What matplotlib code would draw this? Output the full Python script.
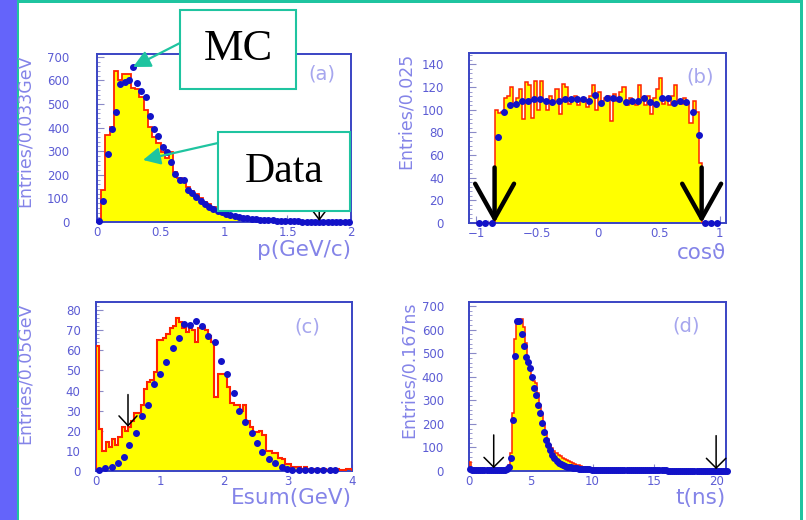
import numpy as np
import matplotlib
matplotlib.use("Agg")
import matplotlib.pyplot as plt
from matplotlib.patches import Rectangle, FancyArrowPatch
from matplotlib.ticker import AutoMinorLocator

# ---------------- data ----------------
# (a) momentum, 60 bins of 0.0333 GeV from 0 to 2
mc_a = [10, 136, 368, 404, 640, 600, 627, 627, 567, 565, 531, 475, 404, 361, 334,
        298, 270, 298, 210, 185, 170, 150, 130, 118, 100, 85, 75, 62, 52, 45,
        38, 33, 28, 24, 21, 18, 15, 13, 11, 9, 8, 7, 6, 5, 4,
        4, 3, 3, 2, 2, 2, 1, 1, 1, 1, 1, 0, 0, 0, 0]
data_a = [5, 89, 288, 395, 467, 583, 594, 601, 658, 590, 556, 531, 449, 393, 366,
          319, 298, 256, 202, 178, 178, 136, 124, 107, 90, 78, 64, 56, 48, 41,
          35, 30, 26, 22, 19, 16, 14, 12, 10, 9, 8, 7, 6, 5, 4,
          4, 3, 3, 2, 2, 2, 1, 1, 1, 1, 1, 1, 0, 0, 0]

# (b) cos(theta), MC in 80 bins of 0.025, data in 40 bins of 0.05
mc_b = [0, 0, 0, 0, 0, 0,
        100, 97, 98, 110, 112, 120, 105, 110, 118, 92, 124, 122, 93, 125, 100, 125, 108,
        100, 112, 106, 118, 96, 123, 120, 105, 110, 112, 104, 108, 110, 102, 112, 122,
        100, 116, 108, 110, 112, 90, 114, 108, 116, 120, 104, 110, 108, 104, 122, 110,
        104, 112, 96, 110, 118, 128, 105, 110, 104, 112, 122, 108, 105, 110, 106, 88,
        108, 98, 53,
        0, 0, 0, 0, 0, 0]
data_b = [0, 0, 0, 76, 98, 104, 105, 108, 108, 109, 109, 108, 107, 108, 109, 109,
          109, 109, 108, 113, 106, 110, 110, 109, 107, 108, 108, 110, 107, 105, 110,
          110, 106, 108, 107, 98, 78, 0, 0, 0]

# (c) Esum, MC in 80 bins of 0.05 GeV
mc_c = [62, 21, 10, 14.6, 12, 16, 13, 17, 22, 20, 22, 25, 29, 29, 33, 41, 44, 45, 49, 65,
        65, 66, 68, 71, 72, 76, 74, 71, 69, 71, 70, 64, 71, 71, 70, 67, 64, 37, 48, 48,
        48, 42, 34, 33, 33, 30, 33, 25, 22, 19.6, 19.6, 20, 18, 10, 10, 9, 9, 6.5, 6, 3.5,
        3.5, 2, 2, 2, 1, 2, 1, 1, 1, 1, 1, 1, 0.5, 1, 0.5, 1, 0.5, 0.5, 1, 1]
data_c_x = [0.04, 0.14, 0.25, 0.35, 0.43, 0.52, 0.62, 0.72, 0.82, 0.91,
            1.0, 1.1, 1.2, 1.29, 1.38, 1.47, 1.56, 1.65, 1.75, 1.86,
            1.96, 2.04, 2.15, 2.24, 2.33, 2.43, 2.51, 2.6, 2.71, 2.8,
            2.9, 2.98, 3.07, 3.17, 3.27, 3.36, 3.46, 3.55, 3.65, 3.74]
data_c = [0.5, 1.3, 2.2, 3.8, 7, 13, 19, 27.5, 33, 43,
          48, 54, 61, 66, 73, 72.6, 74.6, 72, 67, 64,
          54.7, 48, 38.6, 30, 24.5, 18.7, 13.8, 9.6, 6, 3.8,
          2, 1, 0.5, 0.5, 0.5, 0.5, 0.5, 0.5, 0.5, 0.5]

# (d) time, 126 bins of 0.167 ns from 0 to 21
mc_d = [40, 10, 5, 5, 5, 5, 5, 5, 5, 5, 5, 5, 8, 8, 8, 8, 8, 8, 12, 25,
        75, 245, 560, 630, 640, 645, 610, 545, 470, 440, 405, 380, 375, 330, 282,
        240, 200, 165, 135, 112, 96, 86, 78, 70, 63, 57, 52, 47, 42, 38,
        34, 30, 27, 24, 21, 19, 17, 15, 14, 13, 12, 11, 10, 10, 9, 9,
        8, 8, 7, 7, 7, 6, 6, 6, 5, 5, 5, 5, 4, 4, 4, 4, 4, 4, 3, 3,
        3, 3, 3, 3, 3, 3, 3, 3, 3, 3, 3, 3, 3, 3, 2, 2, 2, 2, 2, 2,
        2, 2, 2, 2, 2, 2, 2, 2, 2, 2, 2, 2, 2, 2, 2, 2, 2, 2, 2, 2]
data_d = [8, 5, 4, 4, 3, 3, 3, 3, 3, 3, 3, 3, 4, 4, 4, 5, 5, 6, 8, 15,
          54, 216, 488, 636, 636, 580, 532, 485, 464, 436, 400, 354, 322, 280, 245,
          202, 167, 132, 110, 89, 68, 54, 42, 36, 30, 26, 22, 19, 17, 15,
          13, 12, 11, 10, 9, 8, 8, 7, 7, 6, 6, 6, 5, 5, 5, 5,
          4, 4, 4, 4, 4, 4, 4, 4, 4, 4, 3, 3, 3, 3, 3, 3, 3, 3, 3, 3,
          3, 3, 3, 3, 3, 3, 3, 3, 3, 3, 2, 2, 2, 2, 2, 2, 2, 2, 2, 2,
          2, 2, 2, 2, 2, 2, 2, 2, 2, 2, 2, 2, 2, 2, 2, 2, 2, 2, 2, 2]

# cut arrows: (x, top, bottom)
cuts_a = [(1.75, 100, 5)]
cuts_b = [(-0.85, 49, 0), (0.85, 49, 0)]
cuts_c = [(0.5, 38, 22)]
cuts_d = [(2.0, 153, 12), (20.0, 150, 8)]

ylabels = ["Entries/0.033GeV", "Entries/0.025", "Entries/0.05GeV", "Entries/0.167ns"]
xlabels = ["p(GeV/c)", "cos\u03d1", "Esum(GeV)", "t(ns)"]
tags = ["(a)", "(b)", "(c)", "(d)"]

# ---------------- styling ----------------
W, H = 806, 520
YELLOW = "#ffff00"
RED = "#ff2200"
BLUE_DOT = "#1212c8"
FRAME = "#3a44c4"
TICKLAB = "#5c5cd4"
AXLAB = "#8484e8"
TAG = "#a6a6ee"
TEAL = "#1fc4a0"

plt.rcParams['font.family'] = ['DejaVu Sans']

fig = plt.figure(figsize=(W / 100, H / 100), dpi=100)
fig.patch.set_facecolor("white")


def fx(x):
    return x / W


def fy(y):
    return 1 - y / H


def make_ax(left, top, right, bottom):
    return fig.add_axes([fx(left), fy(bottom), (right - left) / W, (bottom - top) / H])


def style(ax, ylabel, xlabel, tag, tag_xy, ypad, ylab_x, xlab_y):
    for s in ax.spines.values():
        s.set_color(FRAME)
        s.set_linewidth(1.4)
    ax.tick_params(which="both", direction="in", colors="#8a8ac8", labelcolor=TICKLAB,
                   top=False, right=False)
    ax.tick_params(which="major", length=5, labelsize=8.5)
    ax.tick_params(which="minor", length=2.5)
    ax.tick_params(axis="y", pad=ypad)
    ax.tick_params(axis="x", pad=3)
    ax.xaxis.set_minor_locator(AutoMinorLocator(5))
    ax.yaxis.set_minor_locator(AutoMinorLocator(5))
    ax.set_ylabel(ylabel, loc="top", color=AXLAB, fontsize=12.5)
    ax.yaxis.set_label_coords(ylab_x, 1.0)
    ax.set_xlabel(xlabel, loc="right", color=AXLAB, fontsize=15.5)
    ax.xaxis.set_label_coords(1.0, xlab_y)
    ax.text(tag_xy[0], tag_xy[1], tag, transform=ax.transAxes, color=TAG, fontsize=14,
            ha="center", va="center")


def cut_arrow(ax, cuts, lw, hl, hw):
    for x, top, bot in cuts:
        ax.annotate("", xy=(x, bot), xytext=(x, top),
                    arrowprops=dict(arrowstyle="->,head_length=%g,head_width=%g" % (hl, hw),
                                    lw=lw, color="black", shrinkA=0, shrinkB=0),
                    annotation_clip=False, zorder=6)


def hist(ax, edges, mc, lw=1.3):
    ax.stairs(mc, edges, fill=True, color=YELLOW, zorder=2)
    ax.stairs(mc, edges, color=RED, lw=lw, zorder=3)


MS = 4.0

# panel (a)
ax_a = make_ax(97, 54, 351, 222)
edges_a = np.linspace(0, 2, len(mc_a) + 1)
hist(ax_a, edges_a, mc_a)
ax_a.plot(0.5 * (edges_a[:-1] + edges_a[1:]), data_a, "o", color=BLUE_DOT, ms=MS,
          clip_on=False, zorder=4)
ax_a.set_xlim(0, 2)
ax_a.set_ylim(0, 712)
ax_a.set_xticks([0, 0.5, 1, 1.5, 2], ["0", "0.5", "1", "1.5", "2"])
ax_a.set_yticks(range(0, 701, 100))
style(ax_a, ylabels[0], xlabels[0], tags[0], (0.886, 0.881), 20, -0.25, -0.11)
cut_arrow(ax_a, cuts_a, 1.1, 0.6, 0.45)

# panel (b)
ax_b = make_ax(469, 53, 726, 223)
edges_b = np.linspace(-1, 1, len(mc_b) + 1)
hist(ax_b, edges_b, mc_b, lw=1.1)
xb = np.linspace(-1, 1, len(data_b) + 1)
ax_b.plot(0.5 * (xb[:-1] + xb[1:]), data_b, "o", color=BLUE_DOT, ms=MS,
          clip_on=False, zorder=4)
ax_b.set_xlim(-1.06, 1.05)
ax_b.set_ylim(0, 150)
ax_b.set_xticks([-1, -0.5, 0, 0.5, 1], ["\u22121", "\u22120.5", "0", "0.5", "1"])
ax_b.set_yticks(range(0, 141, 20))
style(ax_b, ylabels[1], xlabels[1], tags[1], (0.899, 0.859), 18, -0.21, -0.115)
cut_arrow(ax_b, cuts_b, 3.2, 2.5, 1.4)

# panel (c)
ax_c = make_ax(96, 302, 352, 471)
edges_c = np.linspace(0, 4, len(mc_c) + 1)
hist(ax_c, edges_c, mc_c, lw=1.5)
ax_c.plot(data_c_x, data_c, "o", color=BLUE_DOT, ms=MS, clip_on=False, zorder=4)
ax_c.set_xlim(0, 4)
ax_c.set_ylim(0, 84)
ax_c.set_xticks([0, 1, 2, 3, 4], ["0", "1", "2", "3", "4"])
ax_c.set_yticks(range(0, 81, 10))
style(ax_c, ylabels[2], xlabels[2], tags[2], (0.824, 0.852), 11, -0.245, -0.1)
cut_arrow(ax_c, cuts_c, 1.1, 0.7, 0.65)

# panel (d)
ax_d = make_ax(469, 302, 726, 471)
edges_d = np.linspace(0, 21, len(mc_d) + 1)
hist(ax_d, edges_d, mc_d, lw=1.1)
ax_d.plot(0.5 * (edges_d[:-1] + edges_d[1:]), data_d, "o", color=BLUE_DOT, ms=MS,
          clip_on=False, zorder=4)
ax_d.set_xlim(0, 20.8)
ax_d.set_ylim(0, 717)
ax_d.set_xticks([0, 5, 10, 15, 20], ["0", "5", "10", "15", "20"])
ax_d.set_yticks(range(0, 701, 100))
style(ax_d, ylabels[3], xlabels[3], tags[3], (0.844, 0.858), 18, -0.2, -0.1)
cut_arrow(ax_d, cuts_d, 1.1, 0.7, 0.7)

# slide frame
fig.add_artist(Rectangle((0, 0), fx(17), 1, transform=fig.transFigure,
                         facecolor="#6464fa", edgecolor="none", zorder=0))
fig.add_artist(Rectangle((fx(17), 0), fx(2), 1, transform=fig.transFigure,
                         facecolor=TEAL, edgecolor="none", zorder=0))
fig.add_artist(Rectangle((fx(17), fy(3)), fx(786), 3 / H, transform=fig.transFigure,
                         facecolor=TEAL, edgecolor="none", zorder=0))
fig.add_artist(Rectangle((fx(800), 0), fx(2.5), 1, transform=fig.transFigure,
                         facecolor=TEAL, edgecolor="none", zorder=0))

# MC / Data call-out boxes
boxes = [("MC", 180, 10, 296, 89, 32, (180, 43), (133, 67)),
         ("Data", 218, 132, 350, 211, 30, (218, 143), (143, 160))]
for label, x0, y0, x1, y1, fs, start, tip in boxes:
    fig.add_artist(Rectangle((fx(x0), fy(y1)), (x1 - x0) / W, (y1 - y0) / H,
                             transform=fig.transFigure, facecolor="white",
                             edgecolor=TEAL, lw=1.5, zorder=10))
    fig.text(fx((x0 + x1) / 2), fy((y0 + y1) / 2), label, ha="center", va="center",
             fontsize=fs, family="Liberation Serif", color="black", zorder=11)
    fig.add_artist(FancyArrowPatch(posA=(fx(start[0]), fy(start[1])),
                                   posB=(fx(tip[0]), fy(tip[1])),
                                   transform=fig.transFigure, arrowstyle="-|>",
                                   mutation_scale=26, color=TEAL, lw=1.6,
                                   shrinkA=0, shrinkB=0, zorder=11))

fig.savefig("out.png", dpi=100)
